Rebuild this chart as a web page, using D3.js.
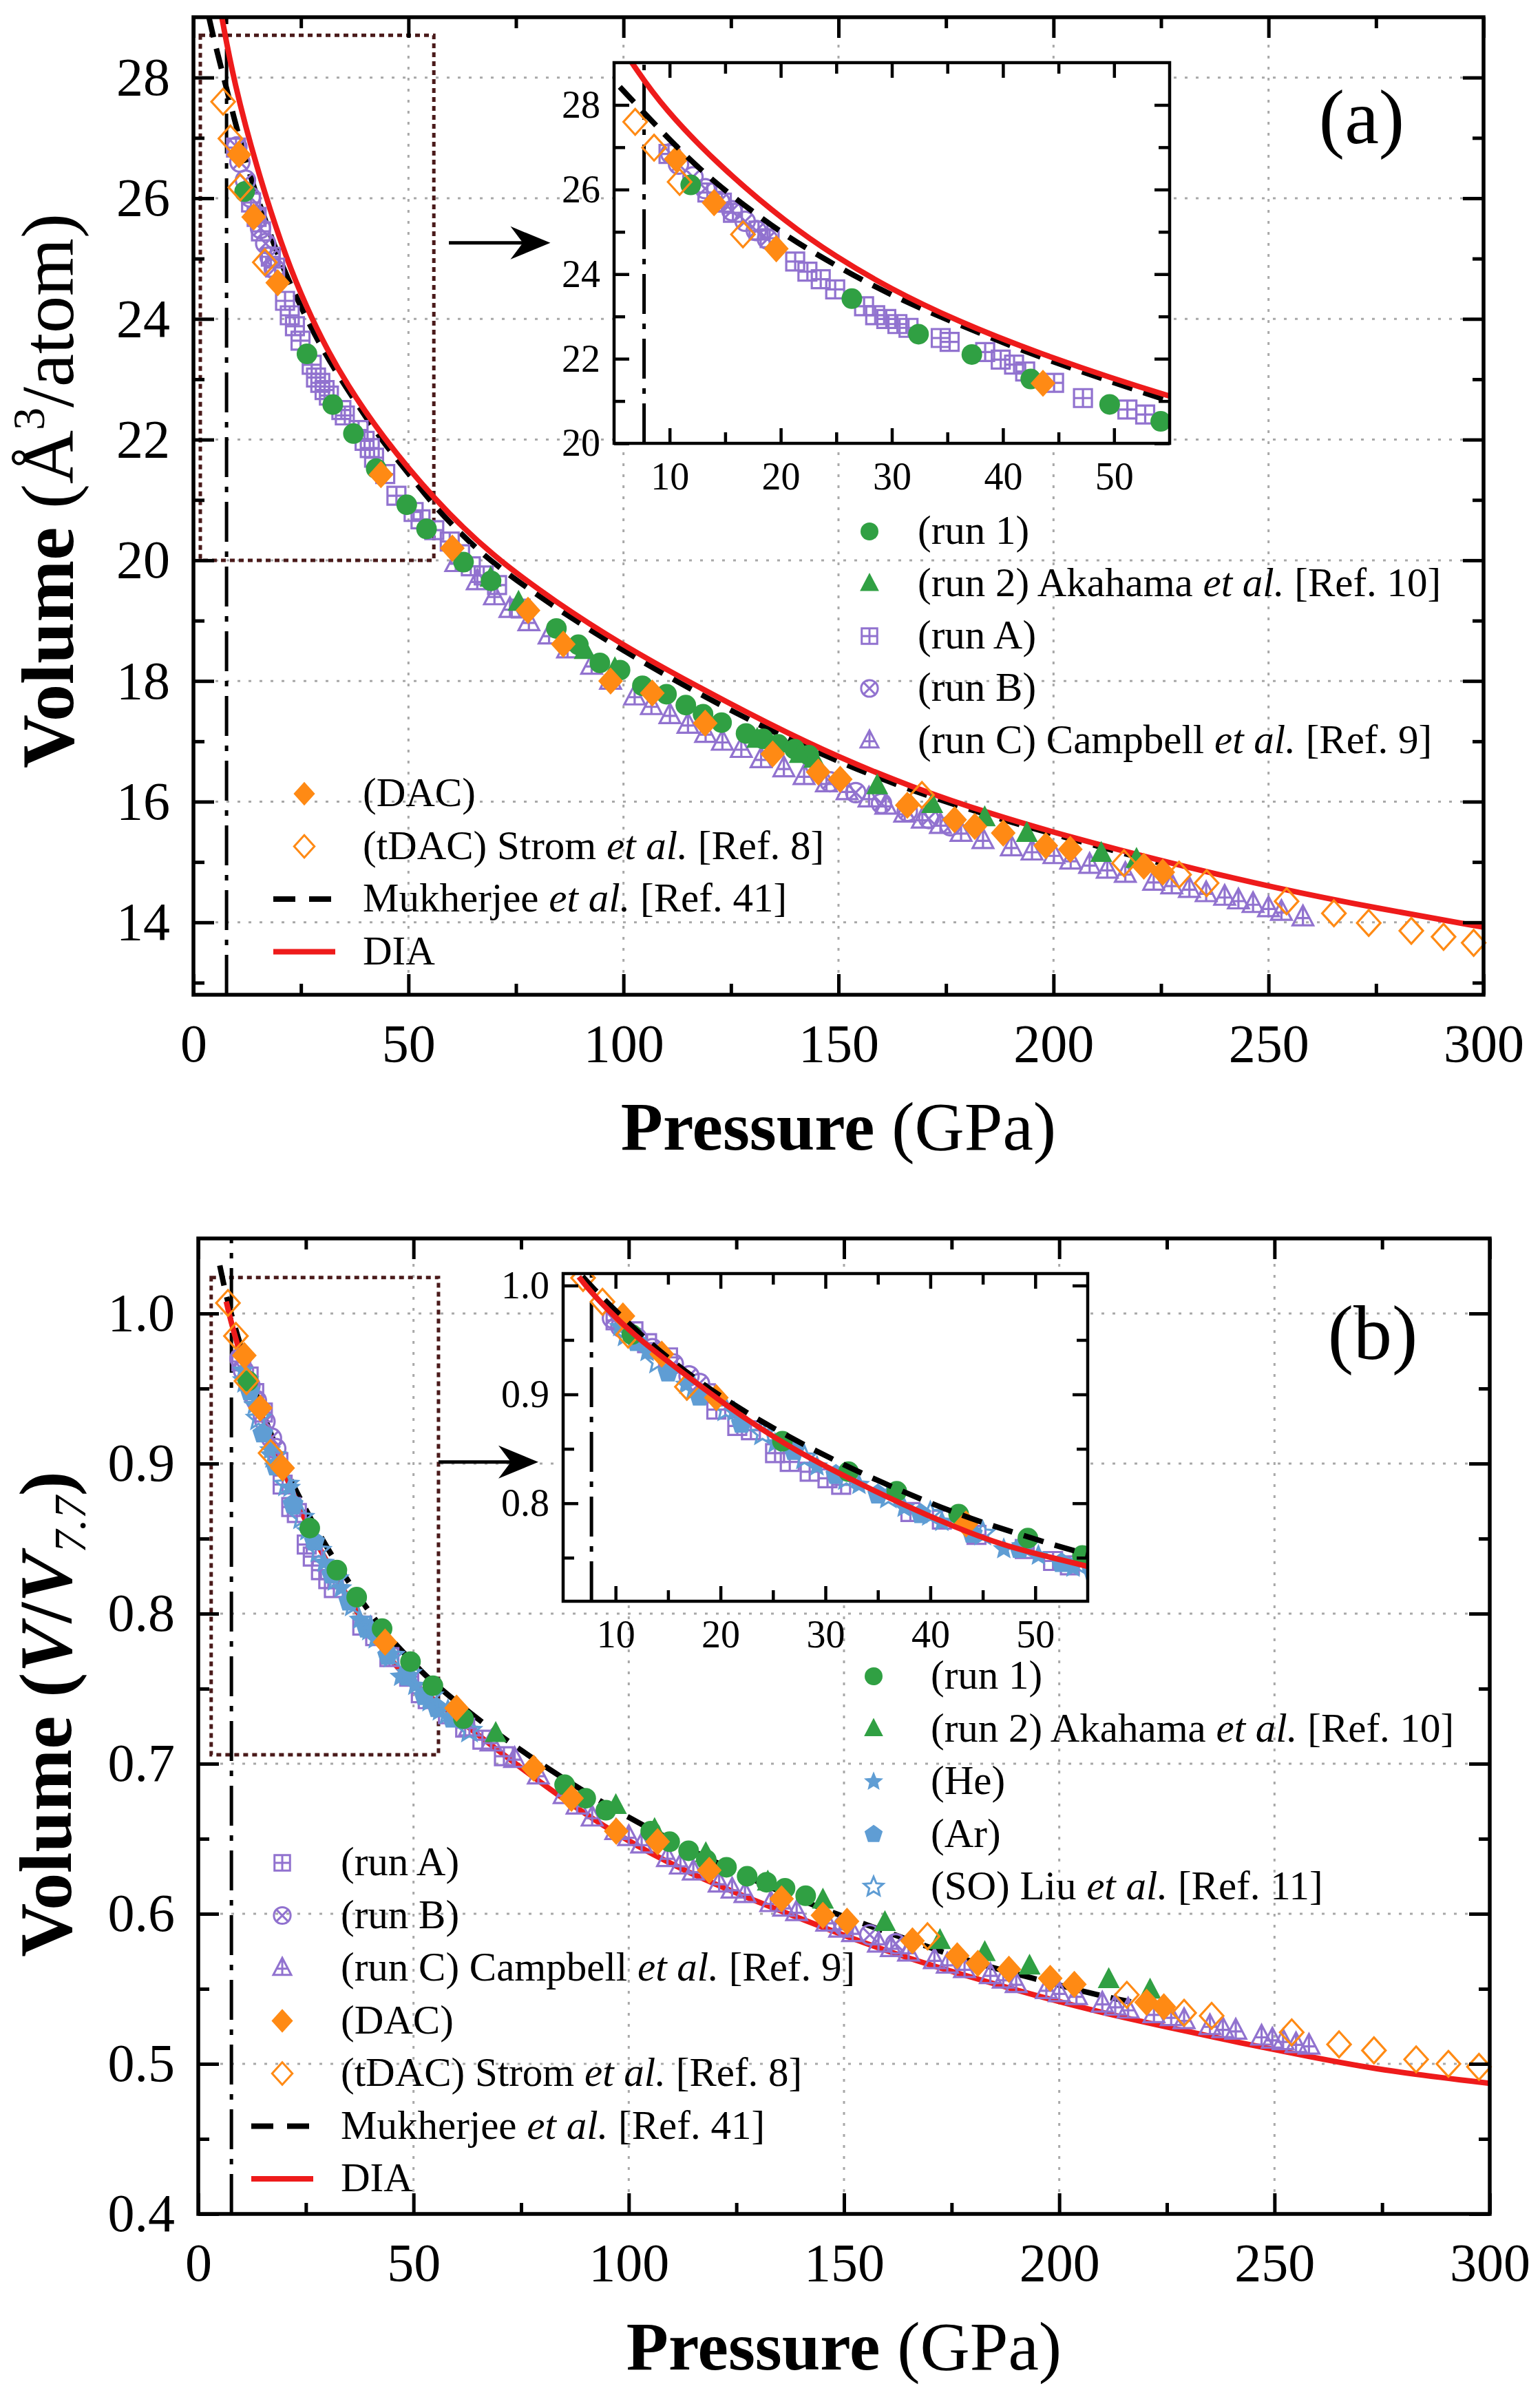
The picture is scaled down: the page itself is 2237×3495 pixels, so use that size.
<!DOCTYPE html>
<html>
<head>
<meta charset="utf-8">
<script src="https://cdn.jsdelivr.net/npm/d3@7"></script>
<style>
  body { margin: 0; background: #fff; }
  text { font-family: "Liberation Serif", "Times New Roman", serif; }
</style>
</head>
<body>
<script>
// ---------- ticks ----------
var pTicks = [0, 50, 100, 150, 200, 250, 300];
var pMinor = [25, 75, 125, 175, 225, 275];
var pGrid = [50, 100, 150, 200, 250];
var vTicksA = [14, 16, 18, 20, 22, 24, 26, 28];
var vMinorA = [13, 15, 17, 19, 21, 23, 25, 27];
var rTicksB = [0.4, 0.5, 0.6, 0.7, 0.8, 0.9, 1.0];
var rMinorB = [0.45, 0.55, 0.65, 0.75, 0.85, 0.95];
var rGridB = [0.5, 0.6, 0.7, 0.8, 0.9, 1.0];
var insetPTicks = [10, 20, 30, 40, 50];
var insetPMinor = [15, 25, 35, 45];
var insetVTicksA = [20, 22, 24, 26, 28];
var insetVMinorA = [21, 23, 25, 27];
var insetRTicksB = [0.8, 0.9, 1.0];
var insetRMinorB = [0.75, 0.85, 0.95];
var pRef = 7.7;   // dash-dot reference pressure

// ---------- panel (a): P (GPa) vs V (A^3/atom) ----------
var diaA = [[6.6,29.0],[9.4,27.93],[14.7,26.5],[20.6,25.2],[24.9,24.42],[29.8,23.66],[35.7,22.91],[43.6,22.08],[56,21.0],[69.5,20.07],[84.4,19.3],[99.2,18.62],[115.8,17.96],[134,17.28],[150.5,16.72],[167.1,16.24],[185.2,15.8],[203.5,15.42],[226.6,14.99],[251.4,14.57],[276.2,14.22],[300,13.92]];
var mukA = [[3.6,29.0],[4.8,28.62],[7.4,27.9],[10.7,26.98],[14,26.18],[17.3,25.51],[20.6,24.88],[25.2,24.16],[30.5,23.42],[37,22.7],[43.6,22.0],[50.2,21.42],[56,20.9],[62,20.45],[69.5,19.95],[84.4,19.2],[99.2,18.53],[115.8,17.85],[134,17.18],[150.5,16.64],[167.1,16.18],[185.2,15.76],[203.5,15.39],[226,14.96]];
var run1A = [[11.9,26.11],[26.4,23.42],[32.4,22.58],[37.2,22.1],[42.5,21.52],[49.6,20.92],[54.2,20.52],[62.8,19.97],[69.2,19.66],[84.4,18.87],[89.5,18.6],[94.5,18.3],[99.2,18.18],[104.4,17.92],[110,17.78],[114.5,17.6],[118.5,17.45],[122.8,17.31],[128.5,17.13],[132.5,17.04],[136,16.95],[139.8,16.87],[143.1,16.77]];
var run2A = [[69.1,19.7],[75.6,19.3],[91,18.5],[98,18.2],[131.1,17.03],[141,16.78],[144.4,16.7],[159,16.26],[171.8,15.95],[184,15.73],[193.8,15.47],[211.1,15.14],[219.3,15.04]];
var runAA = [[9.9,26.84],[13.4,25.93],[14.7,25.69],[15.7,25.45],[18,25.03],[19,24.85],[21.3,24.3],[22.4,24.06],[23.6,23.88],[24.9,23.64],[27.5,23.24],[28.5,23.03],[29.5,22.94],[30.5,22.82],[31.5,22.73],[34.4,22.49],[35.2,22.4],[38.4,22.16],[39.8,21.98],[41,21.86],[42,21.7],[44.6,21.43],[47.2,21.07],[51.2,20.8],[52.8,20.68],[56,20.5],[59.6,20.31],[62,20.1],[64.5,19.9],[67.5,19.75],[70.6,19.59],[76.1,19.2]];
var runBA = [[10.1,26.85],[10.8,26.6],[12.1,26.3],[13.2,26.02],[14.5,25.72],[15.6,25.5],[16.8,25.25],[17.8,25.03],[18.8,24.83],[148,16.33],[154,16.15],[160,15.97],[166,15.84],[171,15.72],[176,15.6]];
var runCA = [[61,19.95],[66,19.65],[70,19.4],[73.6,19.19],[78,18.97],[82.7,18.75],[87,18.52],[92.6,18.25],[97,18.0],[102.6,17.74],[106.5,17.58],[110.8,17.43],[115,17.27],[119.1,17.12],[123,16.99],[127.4,16.87],[132,16.7],[137.3,16.55],[142,16.42],[147.2,16.3],[152,16.17],[157.1,16.05],[161,15.93],[165.4,15.8],[169.5,15.7],[173.7,15.61],[178.5,15.48],[183.6,15.36],[190.2,15.24],[195,15.17],[200.1,15.11],[204,15.02],[208.4,14.95],[212.5,14.87],[216.7,14.8],[223.3,14.67],[227.5,14.61],[231.6,14.55],[235.5,14.48],[239.8,14.42],[243,14.36],[246.4,14.3],[250,14.23],[253,14.17],[258,14.08]];
var dacA = [[10.6,26.72],[14.0,25.69],[19.6,24.6],[43.6,21.42],[60.2,20.2],[77.8,19.17],[86,18.61],[97,18.0],[106.7,17.8],[119,17.3],[134.7,16.79],[145.3,16.49],[150.4,16.37],[166,15.94],[177,15.7],[181.7,15.59],[188.3,15.48],[198.2,15.27],[203.9,15.21],[221,14.93],[225.4,14.83]];
var tdacA = [[6.9,27.6],[8.6,26.99],[10.9,26.18],[16.6,24.94],[169.4,16.11],[216.4,14.98],[229.2,14.79],[235.6,14.65],[254.2,14.35],[265.2,14.15],[273.3,13.99],[283.2,13.86],[290.7,13.76],[297.7,13.66]];

// ---------- panel (b): P (GPa) vs V/V7.7 ----------
var diaB = [[6.5,1.008],[7.3,0.998],[9.1,0.979],[11.7,0.955],[15,0.93],[19,0.901],[22.6,0.876],[27.2,0.848],[32.2,0.823],[37.1,0.8],[42.1,0.779],[47,0.761],[52,0.749],[55,0.742],[65.9,0.717],[81.9,0.682],[97.9,0.651],[113.9,0.627],[129.9,0.608],[145.9,0.59],[161.9,0.573],[177.9,0.559],[193.9,0.546],[209.9,0.534],[225.9,0.524],[241.9,0.514],[257.9,0.505],[273.9,0.496],[300,0.487]];
var mukB = [[5.0,1.032],[6.3,1.014],[7.7,0.999],[10.7,0.970],[14,0.941],[18,0.911],[22.3,0.884],[25.6,0.866],[28.5,0.851],[31.2,0.838],[33.8,0.826],[37.1,0.812],[39.8,0.801],[42.7,0.790],[45.7,0.780],[48.7,0.771],[52,0.761],[55,0.753],[65.9,0.727],[81.9,0.695],[97.9,0.667],[113.9,0.643],[129.9,0.621],[145.9,0.602],[161.9,0.586],[177.9,0.569],[193.9,0.557],[209.9,0.545],[219,0.54]];
var run1B = [[11.55,0.955],[25.9,0.857],[32.2,0.829],[36.8,0.811],[42.7,0.79],[49.3,0.768],[54.5,0.752],[61.6,0.73],[85.1,0.686],[90,0.677],[94.7,0.669],[105.1,0.655],[109.5,0.648],[113.9,0.642],[118,0.636],[122.7,0.631],[127.5,0.625],[132,0.621],[136.3,0.617],[141.1,0.612]];
var run2B = [[69.1,0.72],[97,0.672],[106,0.656],[117.9,0.64],[132.3,0.621],[145.1,0.609],[159.5,0.594],[172.3,0.582],[182.7,0.574],[193.1,0.565],[211.5,0.556],[221.1,0.549]];
var heB = [[10.4,0.962],[13,0.939],[16.7,0.909],[21.3,0.884],[25.2,0.855],[29.2,0.834],[33.2,0.817],[37.5,0.796],[41.1,0.783],[47,0.758],[50.3,0.752],[53.6,0.741],[56,0.735]];
var arB = [[12,0.948],[15,0.92],[18,0.898],[22,0.873],[27,0.848],[31,0.826],[35,0.808],[39.1,0.79],[44,0.772],[48.5,0.758],[52.5,0.745],[55.5,0.737],[59,0.73]];
var soB = [[11,0.955],[14,0.93],[17.5,0.905],[20.5,0.886],[24,0.864],[28,0.842],[32,0.823],[36,0.806],[40,0.79],[45,0.772],[49,0.76],[54,0.745],[58,0.734],[63,0.722]];
var runAB = [[10,0.968],[11.7,0.958],[13,0.947],[15,0.934],[18.6,0.901],[19.6,0.886],[21.6,0.871],[22.9,0.867],[25.2,0.846],[26.6,0.838],[28.5,0.829],[30.2,0.823],[31.5,0.817],[38.1,0.792],[41.1,0.785],[44.4,0.771],[49,0.758],[51.7,0.747],[53.3,0.743],[58,0.733],[62,0.724],[66,0.716],[71,0.705]];
var runBB = [[9.7,0.97],[10.5,0.962],[12,0.952],[13.5,0.942],[15.5,0.928],[17,0.917],[18,0.91],[150,0.592],[156,0.586],[162,0.58]];
var runCB = [[63,0.724],[68,0.714],[73.5,0.703],[79,0.692],[85,0.679],[88,0.672],[91.5,0.664],[97,0.655],[100,0.651],[103,0.646],[109,0.637],[112,0.632],[115,0.628],[121,0.62],[124,0.616],[127,0.613],[133,0.607],[136,0.604],[139,0.601],[146,0.594],[149,0.59],[152,0.587],[158,0.58],[161,0.577],[165,0.574],[171,0.569],[174,0.566],[178,0.563],[184,0.559],[187,0.556],[190,0.553],[197,0.549],[200,0.547],[204,0.545],[210,0.54],[213,0.538],[216,0.536],[222,0.533],[226,0.531],[229,0.529],[235,0.525],[238,0.523],[241,0.522],[247,0.518],[249.5,0.516],[252,0.515],[255,0.513],[258,0.512]];
var dacB = [[10.7,0.972],[14.4,0.937],[19.6,0.897],[43.4,0.781],[60,0.737],[77.9,0.697],[86.7,0.677],[97.1,0.655],[106.7,0.648],[118.7,0.629],[135.5,0.61],[145.1,0.599],[150.7,0.595],[165.9,0.582],[176.3,0.572],[181.1,0.567],[188.3,0.563],[197.9,0.557],[203.5,0.553],[220.3,0.541],[224.3,0.538]];
var tdacB = [[6.9,1.007],[8.75,0.985],[11.2,0.955],[16.8,0.907],[169.4,0.585],[215.7,0.546],[229,0.534],[235.4,0.532],[254,0.521],[265,0.513],[273.1,0.509],[282.9,0.503],[290.4,0.5],[297.5,0.498]];

// ---------- colours and symbols ----------
var cGreen = "#30a043", cPurple = "#9172cf", cOrange = "#ff8a14", cBlue = "#5f9dd4", cRed = "#ee1b1b", cBox = "#4a1a1a";
var serif = "'Liberation Serif', 'Times New Roman', serif";

function rr(s) { return Math.sqrt(s); }
var symCircle = { draw: function (c, s) { var r = rr(s); c.moveTo(r, 0); c.arc(0, 0, r, 0, 2 * Math.PI); } };
var symTri = { draw: function (c, s) { var r = rr(s); c.moveTo(0, -r * 1.15); c.lineTo(r, r * 0.75); c.lineTo(-r, r * 0.75); c.closePath(); } };
var symDiamond = { draw: function (c, s) { var r = rr(s); c.moveTo(0, -r * 1.1); c.lineTo(r, 0); c.lineTo(0, r * 1.1); c.lineTo(-r, 0); c.closePath(); } };
var symSqPlus = { draw: function (c, s) { var r = rr(s); c.rect(-r, -r, 2 * r, 2 * r); c.moveTo(0, -r); c.lineTo(0, r); c.moveTo(-r, 0); c.lineTo(r, 0); } };
var symCircX = { draw: function (c, s) { var r = rr(s), k = r * 0.707; c.moveTo(r, 0); c.arc(0, 0, r, 0, 2 * Math.PI); c.moveTo(-k, -k); c.lineTo(k, k); c.moveTo(-k, k); c.lineTo(k, -k); } };
var symTriPlus = { draw: function (c, s) { var r = rr(s); c.moveTo(0, -r * 1.15); c.lineTo(r, r * 0.75); c.lineTo(-r, r * 0.75); c.closePath(); c.moveTo(0, -r * 1.15); c.lineTo(0, r * 0.75); c.moveTo(-r * 0.55, r * 0.05); c.lineTo(r * 0.55, r * 0.05); } };
var symPent = { draw: function (c, s) { var r = rr(s); for (var i = 0; i < 5; i++) { var a = -Math.PI / 2 + i * 2 * Math.PI / 5; if (i) c.lineTo(r * Math.cos(a), r * Math.sin(a)); else c.moveTo(r * Math.cos(a), r * Math.sin(a)); } c.closePath(); } };
var symStar = { draw: function (c, s) { var r = rr(s); for (var i = 0; i < 10; i++) { var a = -Math.PI / 2 + i * Math.PI / 5, q = i % 2 ? r * 0.45 : r; if (i) c.lineTo(q * Math.cos(a), q * Math.sin(a)); else c.moveTo(q * Math.cos(a), q * Math.sin(a)); } c.closePath(); } };

var sty = {
  run1: { type: symCircle, r: 15, fill: cGreen, stroke: "none" },
  run2: { type: symTri, r: 16, fill: cGreen, stroke: "none" },
  runA: { type: symSqPlus, r: 13, fill: "none", stroke: cPurple },
  runB: { type: symCircX, r: 14, fill: "none", stroke: cPurple },
  runC: { type: symTriPlus, r: 15, fill: "none", stroke: cPurple },
  dac: { type: symDiamond, r: 18, fill: cOrange, stroke: "none" },
  tdac: { type: symDiamond, r: 17, fill: "none", stroke: cOrange },
  he: { type: symStar, r: 17, fill: cBlue, stroke: "none" },
  ar: { type: symPent, r: 16, fill: cBlue, stroke: "none" },
  so: { type: symStar, r: 17, fill: "none", stroke: cBlue }
};

var seriesA = [["runC", runCA], ["runB", runBA], ["runA", runAA], ["run1", run1A], ["run2", run2A], ["dac", dacA], ["tdac", tdacA]];
var seriesB = [["runC", runCB], ["runB", runBB], ["runA", runAB], ["he", heB], ["ar", arB], ["so", soB], ["run1", run1B], ["run2", run2B], ["dac", dacB], ["tdac", tdacB]];

var svg = d3.select("body").append("svg").attr("width", 2237).attr("height", 3495).style("display", "block");
svg.append("rect").attr("width", 2237).attr("height", 3495).attr("fill", "#fff");
var defs = svg.append("defs");

function drawMarkers(g, x, y, series, scale) {
  series.forEach(function (s) {
    var st = sty[s[0]];
    g.append("g").selectAll("path").data(s[1]).join("path")
      .attr("transform", function (d) { return "translate(" + x(d[0]) + "," + y(d[1]) + ")"; })
      .attr("d", d3.symbol().type(st.type).size(st.r * st.r * scale * scale))
      .attr("fill", st.fill).attr("stroke", st.stroke).attr("stroke-width", 3.2);
  });
}

function drawLines(g, x, y, dia, muk) {
  var line = d3.line().x(function (d) { return x(d[0]); }).y(function (d) { return y(d[1]); }).curve(d3.curveBasis);
  g.append("path").attr("d", line(muk)).attr("fill", "none").attr("stroke", "#000").attr("stroke-width", 8).attr("stroke-dasharray", "30,17");
  g.append("path").attr("d", line(dia)).attr("fill", "none").attr("stroke", cRed).attr("stroke-width", 8);
}

function dashDot(g, x, y) {
  g.append("line").attr("x1", x(pRef)).attr("x2", x(pRef)).attr("y1", y.range()[0]).attr("y2", y.range()[1])
    .attr("stroke", "#000").attr("stroke-width", 5).attr("stroke-dasharray", "58,14,8,14");
}

function axes(g, x, y, o) {
  var x0 = x.range()[0], x1 = x.range()[1], y0 = y.range()[0], y1 = y.range()[1];
  function style(sel) {
    sel.select(".domain").remove();
    sel.attr("font-family", serif).attr("font-size", o.fs);
    sel.selectAll("line").attr("stroke", "#000").attr("stroke-width", o.sw);
    sel.selectAll("text").attr("fill", "#000");
  }
  g.append("g").attr("transform", "translate(0," + y0 + ")").call(d3.axisBottom(x).tickValues(o.xMajor).tickSize(-o.L).tickPadding(o.padX).tickFormat(d3.format("d"))).call(style);
  g.append("g").attr("transform", "translate(0," + y0 + ")").call(d3.axisBottom(x).tickValues(o.xMinor).tickSize(-o.l).tickFormat("")).call(style);
  g.append("g").attr("transform", "translate(0," + y1 + ")").call(d3.axisTop(x).tickValues(o.xMajor).tickSize(-o.L).tickFormat("")).call(style);
  g.append("g").attr("transform", "translate(0," + y1 + ")").call(d3.axisTop(x).tickValues(o.xMinor).tickSize(-o.l).tickFormat("")).call(style);
  g.append("g").attr("transform", "translate(" + x0 + ",0)").call(d3.axisLeft(y).tickValues(o.yMajor).tickSize(-o.L).tickPadding(o.padY).tickFormat(o.yFmt)).call(style);
  g.append("g").attr("transform", "translate(" + x0 + ",0)").call(d3.axisLeft(y).tickValues(o.yMinor).tickSize(-o.l).tickFormat("")).call(style);
  g.append("g").attr("transform", "translate(" + x1 + ",0)").call(d3.axisRight(y).tickValues(o.yMajor).tickSize(-o.L).tickFormat("")).call(style);
  g.append("g").attr("transform", "translate(" + x1 + ",0)").call(d3.axisRight(y).tickValues(o.yMinor).tickSize(-o.l).tickFormat("")).call(style);
  g.append("rect").attr("x", x0).attr("y", y1).attr("width", x1 - x0).attr("height", y0 - y1)
    .attr("fill", "none").attr("stroke", "#000").attr("stroke-width", o.fw);
}

function richText(sel, segs) {
  segs.forEach(function (s) {
    var t = sel.append("tspan").text(s.t);
    if (s.i) t.attr("font-style", "italic");
    if (s.b) t.attr("font-weight", "bold");
    if (s.fs) t.attr("font-size", s.fs);
    if (s.dy) t.attr("dy", s.dy);
  });
}

function legend(g, items, o) {
  items.forEach(function (it, i) {
    var yc = o.y0 + i * o.dy;
    if (it.sym) {
      var st = sty[it.sym];
      g.append("path").attr("transform", "translate(" + o.x + "," + yc + ")")
        .attr("d", d3.symbol().type(st.type).size(st.r * st.r * 0.75))
        .attr("fill", st.fill).attr("stroke", st.stroke).attr("stroke-width", 3);
    } else {
      g.append("line").attr("x1", o.x - 45).attr("x2", o.x + 45).attr("y1", yc).attr("y2", yc)
        .attr("stroke", it.line).attr("stroke-width", 8).attr("stroke-dasharray", it.dash || null);
    }
    var t = g.append("text").attr("x", o.tx).attr("y", yc + 18).attr("font-size", o.fs).attr("font-family", serif);
    richText(t, it.label);
  });
}

function arrow(g, x, y, a) {
  var xa = x(a[0][0]), xb = x(a[1][0]), ya = y(a[0][1]);
  g.append("line").attr("x1", xa).attr("x2", xb - 30).attr("y1", ya).attr("y2", ya).attr("stroke", "#000").attr("stroke-width", 5);
  g.append("path").attr("d", "M" + xb + "," + ya + "L" + (xb - 58) + "," + (ya - 24) + "L" + (xb - 40) + "," + ya + "L" + (xb - 58) + "," + (ya + 24) + "Z").attr("fill", "#000");
}

function panel(p) {
  var g = svg.append("g");
  var x = d3.scaleLinear().domain(p.xDom).range(p.xRange);
  var y = d3.scaleLinear().domain(p.yDom).range(p.yRange);
  defs.append("clipPath").attr("id", "clip-" + p.id).append("rect")
    .attr("x", p.xRange[0]).attr("y", p.yRange[1]).attr("width", p.xRange[1] - p.xRange[0]).attr("height", p.yRange[0] - p.yRange[1]);

  // grid
  var grid = g.append("g").attr("stroke", "#a8a8a8").attr("stroke-width", 3).attr("stroke-dasharray", "4,12");
  grid.selectAll(".gx").data(p.gridX).join("line").attr("x1", x).attr("x2", x).attr("y1", p.yRange[0]).attr("y2", p.yRange[1]);
  grid.selectAll(".gy").data(p.gridY).join("line").attr("y1", y).attr("y2", y).attr("x1", p.xRange[0]).attr("x2", p.xRange[1]);

  // zoom box
  g.append("rect").attr("x", x(p.box[0][0])).attr("y", y(p.box[1][1])).attr("width", x(p.box[1][0]) - x(p.box[0][0])).attr("height", y(p.box[0][1]) - y(p.box[1][1]))
    .attr("fill", "none").attr("stroke", cBox).attr("stroke-width", 5).attr("stroke-dasharray", "7,6");

  var body = g.append("g").attr("clip-path", "url(#clip-" + p.id + ")");
  dashDot(body, x, y);
  drawMarkers(g, x, y, p.series, 1);
  drawLines(body, x, y, p.dia, p.muk);
  arrow(g, x, y, p.arrow);

  legend(g, p.legUpper, p.legUpperPos);
  legend(g, p.legLower, p.legLowerPos);

  axes(g, x, y, { xMajor: pTicks, xMinor: pMinor, yMajor: p.yMajor, yMinor: p.yMinor, yFmt: p.yFmt,
    L: 30, l: 16, sw: 5, fw: 5.5, fs: 78, padX: 42, padY: 34 });

  // inset
  var q = p.inset;
  var xi = d3.scaleLinear().domain(q.xDom).range(q.xRange);
  var yi = d3.scaleLinear().domain(q.yDom).range(q.yRange);
  defs.append("clipPath").attr("id", "clip-in-" + p.id).append("rect")
    .attr("x", q.xRange[0]).attr("y", q.yRange[1]).attr("width", q.xRange[1] - q.xRange[0]).attr("height", q.yRange[0] - q.yRange[1]);
  g.append("rect").attr("x", q.xRange[0]).attr("y", q.yRange[1]).attr("width", q.xRange[1] - q.xRange[0]).attr("height", q.yRange[0] - q.yRange[1]).attr("fill", "#fff");
  var ib = g.append("g").attr("clip-path", "url(#clip-in-" + p.id + ")");
  dashDot(ib, xi, yi);
  drawMarkers(ib, xi, yi, p.series, 1);
  drawLines(ib, xi, yi, p.dia, p.muk);
  axes(g, xi, yi, { xMajor: insetPTicks, xMinor: insetPMinor, yMajor: q.yMajor, yMinor: q.yMinor, yFmt: q.yFmt,
    L: 22, l: 16, sw: 4.5, fw: 4.5, fs: 56, padX: 27, padY: 20 });

  // titles
  g.append("text").attr("x", p.label[1]).attr("y", p.label[2]).attr("text-anchor", "middle").attr("font-size", 112).text(p.label[0]);
  var xt = g.append("text").attr("x", (p.xRange[0] + p.xRange[1]) / 2).attr("y", p.xTitleY).attr("text-anchor", "middle").attr("font-size", 100);
  richText(xt, [{ t: "Pressure", b: true }, { t: " (GPa)" }]);
  var yt = g.append("text").attr("transform", "translate(" + p.yTitle[0] + "," + p.yTitle[1] + ") rotate(-90)").attr("text-anchor", "middle").attr("font-size", 108);
  richText(yt, p.yTitleSegs);
}

var etal = function (pre, post) { return [{ t: pre }, { t: "et al.", i: true }, { t: post }]; };

panel({
  id: "a", xDom: [0, 300], xRange: [281, 2155], yDom: [12.8, 29], yRange: [1445, 25],
  yMajor: vTicksA, yMinor: vMinorA, yFmt: d3.format("d"), gridX: pGrid, gridY: vTicksA,
  series: seriesA, dia: diaA, muk: mukA,
  box: [[1.6, 20.0], [55.9, 28.7]], arrow: [[59.4, 25.26], [83, 25.26]],
  inset: { xDom: [5, 55], xRange: [892, 1699], yDom: [20, 29], yRange: [644, 91], yMajor: insetVTicksA, yMinor: insetVMinorA, yFmt: d3.format("d") },
  label: ["(a)", 1978, 208], xTitleY: 1670, yTitle: [106, 713],
  yTitleSegs: [{ t: "Volume ", b: true }, { t: "(Å" }, { t: "3", fs: 66, dy: -42 }, { t: "/atom)", dy: 42 }],
  legUpper: [
    { sym: "run1", label: [{ t: "(run 1)" }] },
    { sym: "run2", label: etal("(run 2) Akahama ", " [Ref. 10]") },
    { sym: "runA", label: [{ t: "(run A)" }] },
    { sym: "runB", label: [{ t: "(run B)" }] },
    { sym: "runC", label: etal("(run C) Campbell ", " [Ref. 9]") }
  ],
  legUpperPos: { x: 1263, tx: 1333, y0: 772, dy: 76, fs: 59 },
  legLower: [
    { sym: "dac", label: [{ t: "(DAC)" }] },
    { sym: "tdac", label: etal("(tDAC) Strom ", " [Ref. 8]") },
    { line: "#000", dash: "32,20", label: etal("Mukherjee ", " [Ref. 41]") },
    { line: cRed, label: [{ t: "DIA" }] }
  ],
  legLowerPos: { x: 442, tx: 527, y0: 1153, dy: 76.5, fs: 59 }
});

panel({
  id: "b", xDom: [0, 300], xRange: [288, 2164], yDom: [0.4, 1.05], yRange: [3216, 1799],
  yMajor: rTicksB, yMinor: rMinorB, yFmt: d3.format(".1f"), gridX: pGrid, gridY: rGridB,
  series: seriesB, dia: diaB, muk: mukB,
  box: [[3.0, 0.706], [55.8, 1.024]], arrow: [[55.8, 0.901], [79, 0.901]],
  inset: { xDom: [5, 55], xRange: [818, 1580], yDom: [0.71, 1.011], yRange: [2326, 1850], yMajor: insetRTicksB, yMinor: insetRMinorB, yFmt: d3.format(".1f") },
  label: ["(b)", 1994, 1974], xTitleY: 3442, yTitle: [103, 2490],
  yTitleSegs: [{ t: "Volume (", b: true }, { t: "V", b: true, i: true }, { t: "/", b: true }, { t: "V", b: true, i: true }, { t: "7.7", i: true, fs: 66, dy: 21 }, { t: ")", b: true, dy: -21 }],
  legUpper: [
    { sym: "run1", label: [{ t: "(run 1)" }] },
    { sym: "run2", label: etal("(run 2) Akahama ", " [Ref. 10]") },
    { sym: "he", label: [{ t: "(He)" }] },
    { sym: "ar", label: [{ t: "(Ar)" }] },
    { sym: "so", label: etal("(SO) Liu ", "  [Ref. 11]") }
  ],
  legUpperPos: { x: 1269, tx: 1352, y0: 2435, dy: 76.5, fs: 59 },
  legLower: [
    { sym: "runA", label: [{ t: "(run A)" }] },
    { sym: "runB", label: [{ t: "(run B)" }] },
    { sym: "runC", label: etal("(run C) Campbell ", " [Ref. 9]") },
    { sym: "dac", label: [{ t: "(DAC)" }] },
    { sym: "tdac", label: etal("(tDAC) Strom ", " [Ref. 8]") },
    { line: "#000", dash: "32,20", label: etal("Mukherjee ", " [Ref. 41]") },
    { line: cRed, label: [{ t: "DIA" }] }
  ],
  legLowerPos: { x: 410, tx: 495, y0: 2706, dy: 76.5, fs: 59 }
});
</script>
</body>
</html>
